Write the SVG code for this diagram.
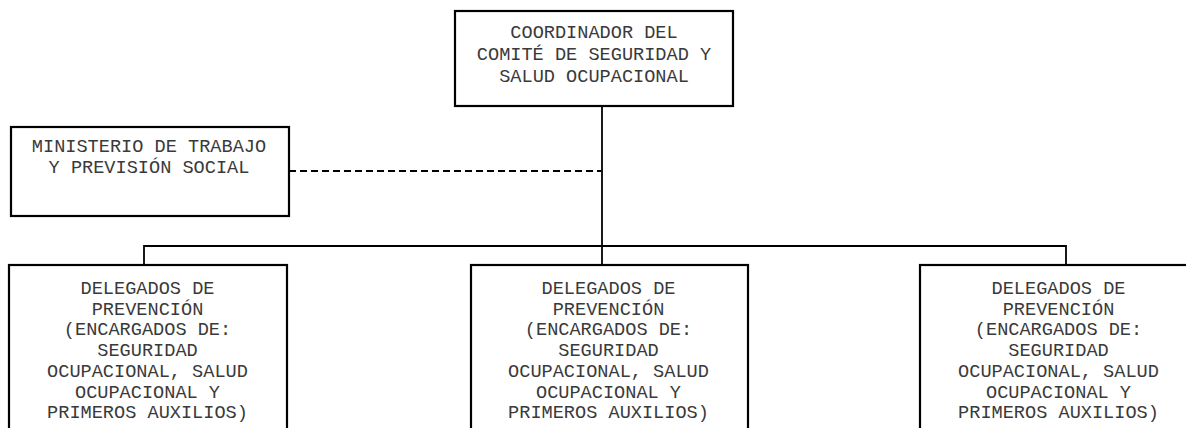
<svg xmlns="http://www.w3.org/2000/svg" width="1186" height="428" viewBox="0 0 1186 428">
<style>
.box{fill:#fff;stroke:#000;stroke-width:2.2}
.t{font-family:"Liberation Mono","Courier New",monospace;font-size:18.6px;fill:#3a3a3a;text-anchor:middle}
.c{fill:none;stroke:#000;stroke-width:1.8}
.d{fill:none;stroke:#000;stroke-width:2;stroke-dasharray:7 4}
</style>
<rect width="1186" height="428" fill="#fff"/>
<g id="connectors">
<line class="c" x1="602" y1="106" x2="602" y2="246"/>
<polyline class="c" points="144,265 144,246 1066,246 1066,265"/>
<line class="c" x1="602" y1="246" x2="602" y2="265"/>
<line class="d" x1="289" y1="171" x2="601" y2="171"/>
</g>
<g id="coordinador">
<rect class="box" x="455" y="11" width="278" height="95"/>
<text class="t" x="594" y="38">COORDINADOR DEL</text>
<text class="t" x="594" y="60">COMITÉ DE SEGURIDAD Y</text>
<text class="t" x="594" y="81.5">SALUD OCUPACIONAL</text>
</g>
<g id="ministerio">
<rect class="box" x="11" y="127" width="278" height="89"/>
<text class="t" x="149" y="152">MINISTERIO DE TRABAJO</text>
<text class="t" x="149" y="173">Y PREVISIÓN SOCIAL</text>
</g>
<g id="delegados1">
<rect class="box" x="9" y="265" width="278" height="200"/>
<text class="t" x="147.5" y="294">DELEGADOS DE</text>
<text class="t" x="147.5" y="314.7">PREVENCIÓN</text>
<text class="t" x="147.5" y="335.4">(ENCARGADOS DE:</text>
<text class="t" x="147.5" y="356.1">SEGURIDAD</text>
<text class="t" x="147.5" y="376.8">OCUPACIONAL, SALUD</text>
<text class="t" x="147.5" y="397.5">OCUPACIONAL Y</text>
<text class="t" x="147.5" y="418.2">PRIMEROS AUXILIOS)</text>
</g>
<g id="delegados2">
<rect class="box" x="471" y="265" width="277" height="200"/>
<text class="t" x="608.5" y="294">DELEGADOS DE</text>
<text class="t" x="608.5" y="314.7">PREVENCIÓN</text>
<text class="t" x="608.5" y="335.4">(ENCARGADOS DE:</text>
<text class="t" x="608.5" y="356.1">SEGURIDAD</text>
<text class="t" x="608.5" y="376.8">OCUPACIONAL, SALUD</text>
<text class="t" x="608.5" y="397.5">OCUPACIONAL Y</text>
<text class="t" x="608.5" y="418.2">PRIMEROS AUXILIOS)</text>
</g>
<g id="delegados3">
<rect class="box" x="920" y="265" width="277" height="200"/>
<text class="t" x="1058.5" y="294">DELEGADOS DE</text>
<text class="t" x="1058.5" y="314.7">PREVENCIÓN</text>
<text class="t" x="1058.5" y="335.4">(ENCARGADOS DE:</text>
<text class="t" x="1058.5" y="356.1">SEGURIDAD</text>
<text class="t" x="1058.5" y="376.8">OCUPACIONAL, SALUD</text>
<text class="t" x="1058.5" y="397.5">OCUPACIONAL Y</text>
<text class="t" x="1058.5" y="418.2">PRIMEROS AUXILIOS)</text>
</g>
</svg>
